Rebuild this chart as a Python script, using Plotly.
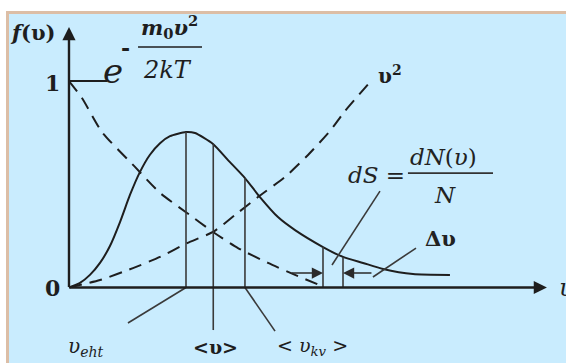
import numpy as np
import plotly.graph_objects as go

# Speed axis in units of the most probable speed, f in units of the exponential's value at zero.
maxwell_v = [0, 0.094, 0.179, 0.265, 0.350, 0.436, 0.521, 0.607, 0.692, 0.778, 0.863, 1.0,
             1.077, 1.231, 1.359, 1.504, 1.632, 1.786, 1.932, 2.171, 2.342, 2.513, 2.684, 2.940, 3.256]
maxwell_f = [0, 0.022, 0.061, 0.119, 0.201, 0.317, 0.448, 0.560, 0.643, 0.699, 0.733, 0.753,
             0.748, 0.695, 0.617, 0.530, 0.438, 0.341, 0.278, 0.196, 0.148, 0.119, 0.090, 0.065, 0.061]

# Boltzmann factor exp(-m0 v^2 / 2kT), dashed
boltz_v = [0, 0.111, 0.282, 0.564, 0.778, 1.009, 1.231, 1.444, 1.701, 1.932, 2.162]
boltz_f = [1.0, 0.918, 0.753, 0.584, 0.458, 0.361, 0.269, 0.191, 0.119, 0.061, 0.007]

# v^2 factor, dashed
square_v = [0, 0.265, 0.547, 0.778, 1.009, 1.231, 1.419, 1.615, 1.846, 2.043, 2.231, 2.359, 2.573]
square_f = [0, 0.036, 0.094, 0.148, 0.215, 0.269, 0.351, 0.438, 0.535, 0.642, 0.758, 0.855, 0.995]

# characteristic speeds: most probable, mean, root-mean-square
speed_names = ["v_p", "v_mean", "v_rms"]
speed_values = [1.0, 1.233, 1.504]

# speed interval for the strip dS
strip_v = [2.171, 2.342]

INK = "#1e1e1e"
THIN = "#3a3a3a"
SERIF = "DejaVu Serif"

fig = go.Figure()

fig.add_trace(go.Scatter(x=maxwell_v, y=maxwell_f, mode="lines",
                         line=dict(color=INK, width=2, shape="spline", smoothing=0.6),
                         hoverinfo="skip"))
fig.add_trace(go.Scatter(x=boltz_v, y=boltz_f, mode="lines",
                         line=dict(color=INK, width=2, dash="13px,8px", shape="spline", smoothing=0.6),
                         hoverinfo="skip"))
fig.add_trace(go.Scatter(x=square_v, y=square_f, mode="lines",
                         line=dict(color=INK, width=2, dash="13px,8px", shape="spline", smoothing=0.6),
                         hoverinfo="skip"))

shapes = []
# background panel and its border
shapes.append(dict(type="rect", xref="paper", yref="paper", x0=9 / 566, x1=1, y0=0, y1=1 - 14 / 363,
                   fillcolor="#c9ecfe", line=dict(width=0), layer="below"))
shapes.append(dict(type="line", xref="paper", yref="paper", x0=6 / 566, x1=1,
                   y0=1 - 12.5 / 363, y1=1 - 12.5 / 363, line=dict(color="#dcbea6", width=3), layer="below"))
shapes.append(dict(type="line", xref="paper", yref="paper", x0=7.5 / 566, x1=7.5 / 566,
                   y0=0, y1=1 - 11 / 363, line=dict(color="#dcbea6", width=3), layer="below"))

# ordinates at the characteristic speeds
for v in speed_values:
    top = float(np.interp(v, maxwell_v, maxwell_f))
    shapes.append(dict(type="line", x0=v, x1=v, y0=0, y1=top, line=dict(color=THIN, width=1.6)))
# mean speed ordinate continues below the axis as a pointer
shapes.append(dict(type="line", x0=speed_values[1], x1=speed_values[1], y0=0, y1=-0.206,
                   line=dict(color=THIN, width=1.6)))
# pointers to the labels of v_p and v_rms
shapes.append(dict(type="line", x0=speed_values[0], x1=0.504, y0=0, y1=-0.172,
                   line=dict(color=THIN, width=1.6)))
shapes.append(dict(type="line", x0=speed_values[2], x1=1.761, y0=0, y1=-0.211,
                   line=dict(color=THIN, width=1.6)))

# strip dS
for v in strip_v:
    top = float(np.interp(v, maxwell_v, maxwell_f))
    shapes.append(dict(type="line", x0=v, x1=v, y0=0, y1=top, line=dict(color=THIN, width=1.6)))
# pointers of dS and Δυ
shapes.append(dict(type="line", x0=2.248, x1=2.658, y0=0.109, y1=0.467, line=dict(color=THIN, width=1.6)))
shapes.append(dict(type="line", x0=2.598, x1=2.966, y0=0.051, y1=0.191, line=dict(color=THIN, width=1.6)))

# level 1 marker
shapes.append(dict(type="line", x0=0, x1=0.325, y0=1, y1=1, line=dict(color=INK, width=1.8)))
# fraction bars
shapes.append(dict(type="line", x0=0.590, x1=1.137, y0=1.165, y1=1.165, line=dict(color=INK, width=1.6)))
shapes.append(dict(type="line", x0=2.897, x1=3.624, y0=0.554, y1=0.554, line=dict(color="#333", width=1.6)))

ann = []

def arrow(x, y, ax, ay, width=2.2, size=1.0, color=INK):
    ann.append(dict(x=x, y=y, ax=ax, ay=ay, xref="x", yref="y", axref="x", ayref="y",
                    text="", showarrow=True, arrowhead=2, arrowsize=size, arrowwidth=width,
                    arrowcolor=color, standoff=0, startstandoff=0))

# coordinate axes
arrow(0, 1.261, 0, -0.005, width=2.4, size=1.1)
arrow(4.085, 0, -0.005, 0, width=2.4, size=1.1)
# interval arrows
arrow(strip_v[0], 0.070, 1.889, 0.070, width=1.6, size=1.4, color="#2a2a2a")
arrow(strip_v[1], 0.070, 2.598, 0.070, width=1.6, size=1.4, color="#2a2a2a")

def label(x, y, text, size, xanchor="center", color=INK):
    ann.append(dict(x=x, y=y, xref="x", yref="y", text=text, showarrow=False,
                    xanchor=xanchor, yanchor="middle",
                    font=dict(family=SERIF, size=size, color=color)))

label(-0.308, 1.237, "<b><i>f</i>(υ)</b>", 21)
label(-0.137, 0.990, "<b>1</b>", 22)
label(-0.145, 0.0, "<b>0</b>", 22)
label(0.376, 1.050, "<i>e</i>", 34)
label(0.479, 1.160, "<b>-</b>", 22)
label(0.863, 1.262, "<b><i>m</i><sub>0</sub><i>υ</i><sup>2</sup></b>", 21)
label(0.838, 1.053, "<i>2kT</i>", 24)
label(2.744, 1.029, "<b>υ<sup>2</sup></b>", 20)
label(1.248, -0.288, "<b>&lt;υ&gt;</b>", 19)
label(0.137, -0.288, "<i>υ<sub>eht</sub></i>", 20)
label(2.077, -0.288, "&lt; <i>υ<sub>kv</sub></i> &gt;", 19)
label(2.632, 0.545, "<i>dS</i> =", 23, color="#222")
label(3.197, 0.632, "<i>dN</i>(<i>υ</i>)", 23, color="#222")
label(3.214, 0.448, "<i>N</i>", 23, color="#222")
label(3.171, 0.235, "<b>Δυ</b>", 21, color="#222")
label(4.171, 0.0, "<i>υ</i>", 24, xanchor="left")

fig.update_layout(
    width=566, height=363,
    margin=dict(l=0, r=0, t=0, b=0),
    paper_bgcolor="white", plot_bgcolor="rgba(0,0,0,0)",
    showlegend=False,
    xaxis=dict(range=[-0.5897, 4.2479], visible=False, fixedrange=True),
    yaxis=dict(range=[-0.3656, 1.3923], visible=False, fixedrange=True),
    shapes=shapes, annotations=ann,
)

fig.write_html("out.html")
